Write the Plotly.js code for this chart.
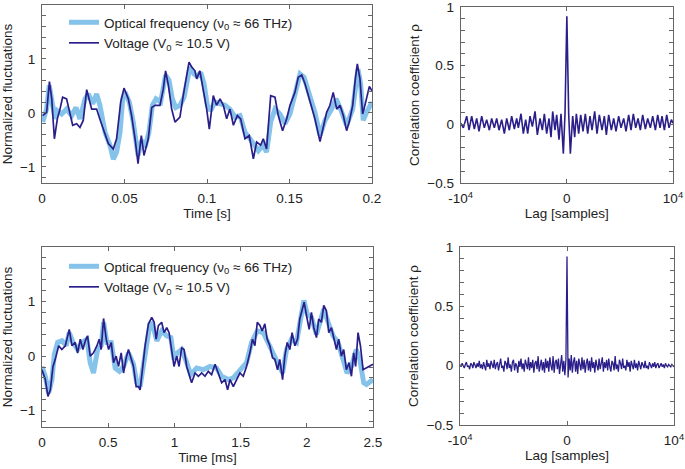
<!DOCTYPE html>
<html>
<head>
<meta charset="utf-8">
<script src="https://cdn.plot.ly/plotly-3.0.1.min.js"></script>
<style>html,body{margin:0;padding:0;background:#fff;}#chart{width:685px;height:469px;}</style>
</head>
<body>
<div id="chart"></div>
<script>
// ---------- Top-left: time series over 0.2 s ----------
const timeTopVolt = [0.0004,0.0028,0.0045,0.0059,0.0075,0.0093,0.0109,0.0125,0.0149,0.017,0.0186,0.021,0.023,0.025,0.0271,0.0301,0.0331,0.0351,0.0382,0.0402,0.0432,0.0452,0.0477,0.0497,0.0523,0.0543,0.0564,0.0582,0.0602,0.0618,0.0644,0.0665,0.0685,0.0715,0.0735,0.0749,0.0766,0.0786,0.0806,0.0836,0.0856,0.0877,0.0891,0.0907,0.0927,0.0937,0.0957,0.0974,0.0998,0.1014,0.1038,0.1058,0.1079,0.1099,0.1119,0.1139,0.116,0.1184,0.1204,0.123,0.1256,0.1281,0.1301,0.1325,0.1341,0.1361,0.1386,0.1412,0.1432,0.1458,0.1483,0.1503,0.1533,0.1553,0.1574,0.1594,0.1624,0.1654,0.1685,0.1705,0.1725,0.1745,0.1765,0.1786,0.1806,0.1826,0.1846,0.1862,0.1883,0.1899,0.1911,0.1927,0.1943,0.1957,0.1972,0.1984,0.2];
const voltTop = [-0.05,0.01,0.58,0.26,-0.48,-0.11,0.07,0.29,0.26,0.01,-0.23,-0.2,-0.27,-0.14,0.43,0.07,0.07,-0.12,-0.42,-0.57,-0.67,-0.48,0.2,0.46,0.26,-0.05,-0.48,-0.94,-0.42,-0.79,-0.48,0.1,0.14,0.14,0.44,0.78,0.51,0.07,-0.17,-0.08,0.32,0.69,0.94,0.85,0.78,0.63,0.78,0.48,0.07,-0.3,0.32,0.14,0.26,0.14,-0.11,0.07,-0.23,-0.05,-0.11,-0.48,-0.42,-0.85,-0.54,-0.6,-0.48,-0.67,0.32,0.29,-0.05,-0.33,-0.11,0.14,0.38,0.66,0.7,0.54,0.2,-0.11,-0.53,-0.23,0.01,0.14,0.38,0.07,0.14,-0.05,-0.33,-0.17,0.14,0.63,0.91,0.63,-0.02,0.14,0.35,0.49,0.41];
const timeTopOpt = [0.0004,0.0028,0.0044,0.0065,0.0079,0.0093,0.0119,0.0149,0.018,0.0206,0.023,0.0261,0.0281,0.0307,0.0331,0.0351,0.0382,0.0412,0.0432,0.0452,0.0473,0.0489,0.0503,0.0529,0.0553,0.0582,0.0604,0.0624,0.0648,0.0669,0.0691,0.0719,0.0749,0.077,0.079,0.081,0.0836,0.0861,0.0881,0.0897,0.0921,0.0941,0.0962,0.0982,0.1002,0.1022,0.1048,0.1079,0.1109,0.1139,0.117,0.12,0.123,0.1261,0.1285,0.1311,0.1341,0.1361,0.1386,0.1412,0.1442,0.1473,0.1503,0.1533,0.1564,0.1588,0.1614,0.1654,0.1685,0.1715,0.1755,0.1782,0.181,0.1846,0.1883,0.1903,0.1915,0.1931,0.1947,0.1967,0.2];
const optTop = [-0.17,0.07,0.51,0.14,-0.11,0.04,-0.02,0.07,-0.05,0.1,-0.11,0.26,0.35,0.17,0.35,0.14,-0.36,-0.6,-0.86,-0.73,-0.36,0.26,0.38,0.2,-0.17,-0.79,-0.51,-0.64,-0.36,0.14,0.26,0.2,0.7,0.6,0.26,0.1,0.14,0.29,0.63,0.85,0.72,0.68,0.75,0.54,0.14,0.04,0.2,0.17,0.14,0.07,-0.08,-0.05,-0.36,-0.48,-0.6,-0.7,-0.6,-0.73,-0.17,0.07,-0.02,-0.2,-0.02,0.32,0.72,0.66,0.38,0.01,-0.42,-0.14,0.07,0.26,0.07,-0.23,0.07,0.6,0.81,0.54,-0.14,0.01,0.2];

// ---------- Bottom-left: time series over 2.5 ms ----------
const timeBotVolt = [0,0.025,0.045,0.063,0.083,0.1,0.126,0.15,0.176,0.188,0.206,0.226,0.25,0.269,0.289,0.309,0.327,0.344,0.364,0.389,0.415,0.432,0.447,0.465,0.485,0.503,0.523,0.54,0.56,0.578,0.598,0.616,0.636,0.653,0.673,0.691,0.711,0.729,0.741,0.761,0.779,0.804,0.829,0.847,0.862,0.879,0.904,0.922,0.942,0.96,0.98,0.997,1.018,1.035,1.055,1.073,1.093,1.113,1.13,1.156,1.181,1.206,1.231,1.256,1.281,1.307,1.332,1.357,1.382,1.402,1.42,1.445,1.47,1.495,1.52,1.545,1.57,1.59,1.608,1.626,1.646,1.663,1.683,1.701,1.721,1.741,1.759,1.779,1.796,1.817,1.834,1.852,1.872,1.889,1.91,1.93,1.947,1.965,1.98,1.998,2.018,2.035,2.053,2.073,2.09,2.11,2.128,2.148,2.166,2.186,2.206,2.224,2.241,2.261,2.279,2.299,2.319,2.337,2.354,2.369,2.387,2.405,2.425,2.45,2.5];
const voltBot = [-0.25,-0.43,-0.74,-0.62,-0.19,-0.06,0.19,0.12,0.19,0.31,0.49,0.19,0.25,0.06,0.31,0.12,0.28,0.37,0.0,0.06,0.19,0.31,0.12,0.69,0.31,0.12,0.25,-0.12,0.0,-0.19,0.06,-0.31,-0.03,0.12,-0.06,-0.19,-0.56,-0.56,-0.62,-0.19,0.19,0.59,0.71,0.62,0.31,0.56,0.62,0.43,0.52,0.43,0.12,-0.19,0.0,-0.19,0.15,0.12,-0.19,-0.37,-0.49,-0.31,-0.37,-0.31,-0.37,-0.28,-0.34,-0.15,-0.31,-0.49,-0.43,-0.62,-0.43,-0.56,-0.43,-0.31,-0.37,-0.19,0.06,0.31,0.19,0.62,0.56,0.46,0.59,0.31,0.19,-0.03,-0.06,-0.25,-0.06,-0.43,0.0,0.25,0.12,0.43,0.19,0.31,0.68,0.83,0.99,0.74,0.49,0.8,0.52,0.34,0.68,0.62,0.93,0.83,0.43,0.52,0.31,0.12,0.31,0.0,0.12,-0.25,-0.12,-0.37,0.06,-0.19,0.43,0.19,-0.25,-0.22,-0.15];
const timeBotOpt = [0,0.025,0.05,0.075,0.093,0.118,0.151,0.183,0.206,0.234,0.269,0.302,0.339,0.364,0.389,0.42,0.447,0.465,0.49,0.523,0.553,0.585,0.616,0.653,0.691,0.716,0.741,0.766,0.792,0.817,0.842,0.867,0.904,0.942,0.973,0.997,1.023,1.055,1.093,1.123,1.168,1.219,1.269,1.319,1.357,1.407,1.445,1.495,1.545,1.583,1.626,1.671,1.709,1.747,1.784,1.817,1.847,1.885,1.922,1.952,1.978,2.003,2.035,2.073,2.098,2.128,2.161,2.199,2.236,2.274,2.304,2.337,2.374,2.4,2.43,2.45,2.5];
const optBot = [-0.19,-0.37,-0.68,-0.43,0.03,0.25,0.28,0.19,0.43,0.25,0.12,0.25,0.31,-0.12,-0.31,0.12,0.19,0.62,0.25,0.25,-0.22,-0.28,-0.19,0.06,-0.15,-0.49,-0.56,-0.19,0.31,0.62,0.52,0.28,0.46,0.37,0.34,-0.06,0.06,0.12,-0.12,-0.34,-0.22,-0.25,-0.19,-0.22,-0.37,-0.43,-0.4,-0.25,-0.12,0.25,0.46,0.43,0.25,0.03,-0.12,-0.31,0.12,0.31,0.25,0.71,1.02,0.77,0.71,0.4,0.62,0.86,0.62,0.37,0.25,-0.06,-0.31,-0.19,0.12,-0.06,-0.49,-0.52,-0.43];

// ---------- Top-right: correlation vs lag ----------
const lagTop = [-10000,-9750,-9435,-9215,-8965,-8715,-8495,-8275,-8024,-7773,-7553,-7302,-7082,-6831,-6610,-6390,-6139,-5888,-5668,-5417,-5197,-4946,-4726,-4569,-4318,-4098,-3878,-3690,-3470,-3250,-2999,-2779,-2528,-2308,-2120,-1900,-1680,-1492,-1334,-1115,-958,-738,-550,-330,-173,0,173,330,550,738,895,1115,1303,1523,1742,1962,2182,2371,2622,2842,3062,3313,3533,3721,3941,4192,4412,4632,4883,5103,5354,5574,5825,6045,6265,6485,6705,6925,7145,7397,7617,7868,8088,8339,8559,8779,8967,9187,9407,9626,9846,10000];
const corrTop = [0.01,-0.03,0.07,-0.05,0.07,-0.04,0.05,-0.06,0.07,-0.03,0.04,-0.05,0.05,-0.03,0.05,-0.05,0.04,-0.08,0.05,-0.05,0.07,-0.04,0.05,-0.03,0.09,-0.08,0.04,-0.08,0.07,-0.02,0.11,-0.09,0.05,-0.05,0.09,-0.08,0.05,-0.11,0.11,-0.05,0.08,-0.13,0.09,-0.25,0.09,0.92,0.09,-0.25,0.07,-0.11,0.09,-0.08,0.08,-0.06,0.09,-0.08,0.07,-0.05,0.11,-0.08,0.08,-0.05,0.07,-0.09,0.08,-0.05,0.05,-0.06,0.07,-0.03,0.05,-0.06,0.08,-0.05,0.09,-0.03,0.05,-0.05,0.08,-0.04,0.05,-0.03,0.07,-0.05,0.08,-0.03,0.07,-0.05,0.08,-0.03,0.04,0.01];

// ---------- Bottom-right: correlation vs lag (uniform lag step) ----------
const lagBotStart = -10000;
const lagBotStep = 100;
const corrBot = [0.01,-0.01,0.02,0.00,-0.02,0.01,0.03,-0.01,0.00,-0.03,0.02,0.01,-0.02,0.03,0.00,-0.02,0.02,-0.01,0.04,-0.02,
0.01,-0.03,0.03,0.00,-0.04,0.05,-0.01,0.02,-0.03,0.04,0.00,-0.02,0.05,-0.03,0.01,0.03,-0.04,0.02,0.06,-0.02,
0.00,-0.05,0.04,0.02,-0.03,0.07,-0.02,0.01,-0.05,0.03,0.05,-0.04,0.02,0.00,-0.06,0.04,-0.01,0.06,-0.03,0.02,
-0.05,0.05,0.01,-0.03,0.07,-0.04,0.03,-0.02,0.05,-0.06,0.02,0.04,-0.03,0.08,-0.05,0.01,0.05,-0.04,0.03,-0.06,
0.06,-0.02,0.04,-0.05,0.07,0.00,-0.04,0.08,-0.06,0.03,0.05,-0.03,0.06,-0.07,0.02,0.09,-0.05,0.04,-0.08,0.05,
0.92,
-0.10,0.06,-0.04,0.09,-0.06,0.03,0.07,-0.05,0.04,-0.07,0.06,0.01,-0.04,0.07,-0.03,0.05,-0.06,0.02,0.06,-0.04,
0.04,-0.05,0.07,-0.02,0.03,-0.06,0.05,0.00,-0.04,0.06,-0.03,0.02,0.07,-0.05,0.03,-0.02,0.05,-0.04,0.06,-0.01,
-0.05,0.04,0.02,-0.04,0.08,-0.03,0.01,-0.05,0.05,0.02,-0.03,0.06,-0.02,0.00,-0.04,0.05,-0.01,0.03,-0.05,0.04,
0.01,-0.03,0.05,-0.02,0.02,-0.04,0.04,0.00,-0.03,0.03,0.01,-0.02,0.04,-0.02,0.00,-0.03,0.03,0.01,-0.02,0.02,
-0.01,0.03,-0.02,0.01,0.02,-0.02,0.00,0.02,-0.01,0.01,-0.02,0.02,0.00,-0.01,0.01,0.00,-0.01,0.01,0.00,-0.01];

// ---------- Labels ----------
const optLabel = 'Optical frequency (\u03bd<sub>0</sub> \u2248 66 THz)';
const voltLabel = 'Voltage (V<sub>0</sub> \u2248 10.5 V)';
const timeTopTicks = [0, 0.05, 0.1, 0.15, 0.2];
const timeTopTickText = ['0', '0.05', '0.1', '0.15', '0.2'];
const timeBotTicks = [0, 0.5, 1, 1.5, 2, 2.5];
const fluctTicks = [-1, 0, 1];
const corrTicks = [-0.5, 0, 0.5, 1];
const lagTickVals = [-10000, 0, 10000];
const lagTickText = ['-10<sup>4</sup>', '0', '10<sup>4</sup>'];

const LIGHT = '#86c3ea';
const DARK = '#2a1f8a';
const FRAME = '#666666';
const FONT = {family: '"Liberation Sans", Arial, sans-serif', size: 13.5, color: '#222'};

const traces = [
  {x: timeTopOpt, y: optTop, type: 'scatter', mode: 'lines', name: optLabel, line: {color: LIGHT, width: 5}, xaxis: 'x', yaxis: 'y', legend: 'legend'},
  {x: timeTopVolt, y: voltTop, type: 'scatter', mode: 'lines', name: voltLabel, line: {color: DARK, width: 1.7}, xaxis: 'x', yaxis: 'y', legend: 'legend'},
  {x: lagTop, y: corrTop, type: 'scatter', mode: 'lines', showlegend: false, line: {color: DARK, width: 1.6}, xaxis: 'x2', yaxis: 'y2'},
  {x: timeBotOpt, y: optBot, type: 'scatter', mode: 'lines', name: optLabel, line: {color: LIGHT, width: 5}, xaxis: 'x3', yaxis: 'y3', legend: 'legend2'},
  {x: timeBotVolt, y: voltBot, type: 'scatter', mode: 'lines', name: voltLabel, line: {color: DARK, width: 1.7}, xaxis: 'x3', yaxis: 'y3', legend: 'legend2'},
  {x0: lagBotStart, dx: lagBotStep, y: corrBot, type: 'scatter', mode: 'lines', showlegend: false, line: {color: DARK, width: 1.3}, xaxis: 'x4', yaxis: 'y4'}
];

function ax(extra) {
  return Object.assign({
    showline: true, mirror: 'ticks', linecolor: FRAME, linewidth: 1,
    ticks: 'inside', ticklen: 4, tickcolor: FRAME, tickwidth: 1,
    showgrid: false, zeroline: false, tickfont: FONT, automargin: false,
    ticklabelstandoff: 3, ticklabeloverflow: 'allow'
  }, extra);
}

const W = 685, H = 469;
const layout = {
  width: W, height: H,
  margin: {l: 0, r: 0, t: 0, b: 0},
  paper_bgcolor: '#fff', plot_bgcolor: '#fff',
  font: FONT,
  xaxis: ax({domain: [42/W, 372/W], range: [0, 0.2], tickvals: timeTopTicks, ticktext: timeTopTickText, anchor: 'y',
    title: {text: 'Time [s]', font: FONT, standoff: 2}}),
  yaxis: ax({domain: [1-183/H, 1-5/H], range: [-1.3, 2.0], tickvals: fluctTicks, anchor: 'x',
    minor: {ticks: 'inside', ticklen: 4, tickcolor: FRAME, tick0: 0, dtick: 0.2, showgrid: false},
    title: {text: 'Normalized fluctuations', font: FONT, standoff: 9}}),
  xaxis2: ax({domain: [460.7/W, 673/W], range: [-10000, 10000], tickvals: lagTickVals, ticktext: lagTickText, anchor: 'y2',
    title: {text: 'Lag [samples]', font: FONT, standoff: 2}}),
  yaxis2: ax({domain: [1-183/H, 1-7/H], range: [-0.5, 1], tickvals: corrTicks, anchor: 'x2',
    minor: {ticks: 'inside', ticklen: 4, tickcolor: FRAME, tick0: 0, dtick: 0.1, showgrid: false},
    title: {text: 'Correlation coefficient \u03c1', font: FONT, standoff: 4}}),
  xaxis3: ax({domain: [42/W, 373/W], range: [0, 2.5], tickvals: timeBotTicks, anchor: 'y3',
    title: {text: 'Time [ms]', font: FONT, standoff: 2}}),
  yaxis3: ax({domain: [1-427/H, 1-247/H], range: [-1.3, 2.0], tickvals: fluctTicks, anchor: 'x3',
    minor: {ticks: 'inside', ticklen: 4, tickcolor: FRAME, tick0: 0, dtick: 0.2, showgrid: false},
    title: {text: 'Normalized fluctuations', font: FONT, standoff: 9}}),
  xaxis4: ax({domain: [460/W, 674/W], range: [-10000, 10000], tickvals: lagTickVals, ticktext: lagTickText, anchor: 'y4',
    title: {text: 'Lag [samples]', font: FONT, standoff: 2}}),
  yaxis4: ax({domain: [1-425/H, 1-247/H], range: [-0.5, 1], tickvals: corrTicks, anchor: 'x4',
    minor: {ticks: 'inside', ticklen: 4, tickcolor: FRAME, tick0: 0, dtick: 0.1, showgrid: false},
    title: {text: 'Correlation coefficient \u03c1', font: FONT, standoff: 4}}),
  legend: {x: 64/W, y: 1-7/H, xanchor: 'left', yanchor: 'top', bgcolor: 'rgba(0,0,0,0)', font: FONT, tracegroupgap: 0},
  legend2: {x: 64/W, y: 1-251/H, xanchor: 'left', yanchor: 'top', bgcolor: 'rgba(0,0,0,0)', font: FONT, tracegroupgap: 0},
  showlegend: true
};

Plotly.newPlot('chart', traces, layout, {staticPlot: true, displayModeBar: false});
</script>
</body>
</html>
